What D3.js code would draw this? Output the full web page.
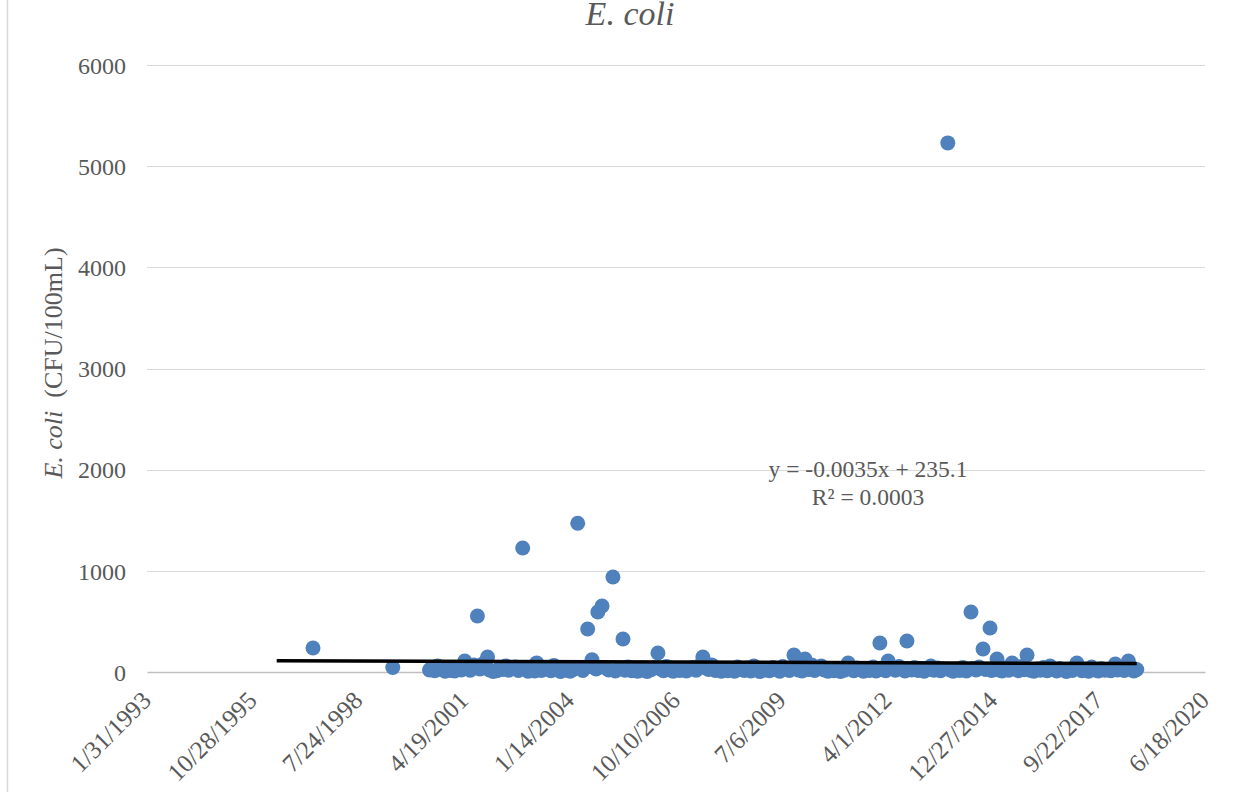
<!DOCTYPE html>
<html>
<head>
<meta charset="utf-8">
<script src="https://cdn.jsdelivr.net/npm/d3@7"></script>
<style>
  body { margin: 0; background: #fff; }
  svg { font-family: "Liberation Serif", "Times New Roman", serif; }
</style>
</head>
<body>
<svg id="svg1" width="1252" height="792"></svg>
<script>
// sample dates (M/D/YYYY) and E. coli counts (CFU/100mL)
var sampleDates = [
  "5/19/1997", "6/12/1999",
  "5/24/2000", "6/14/2000", "7/12/2000", "8/9/2000", "9/13/2000", "10/18/2000", "11/15/2000", "12/13/2000",
  "1/17/2001", "2/21/2001", "3/21/2001", "4/22/2001", "5/16/2001", "6/13/2001", "7/18/2001", "8/20/2001", "9/12/2001", "10/17/2001", "11/24/2001", "12/12/2001",
  "1/16/2002", "2/20/2002", "3/20/2002", "4/17/2002", "5/15/2002", "6/12/2002", "7/17/2002", "8/14/2002", "9/11/2002", "10/22/2002", "11/13/2002", "12/11/2002",
  "1/15/2003", "2/12/2003", "3/3/2003", "4/16/2003", "5/14/2003", "6/11/2003", "7/16/2003", "8/13/2003", "9/17/2003", "10/15/2003", "11/12/2003", "12/10/2003",
  "1/14/2004", "2/11/2004", "3/25/2004", "4/14/2004", "5/12/2004", "6/27/2004", "7/14/2004", "8/7/2004", "9/15/2004", "10/1/2004", "11/10/2004", "12/8/2004",
  "1/12/2005", "2/21/2005", "3/16/2005", "4/13/2005", "5/27/2005", "6/15/2005", "7/13/2005", "8/17/2005", "9/14/2005", "10/12/2005", "11/16/2005", "12/14/2005",
  "1/11/2006", "2/15/2006", "3/15/2006", "4/22/2006", "5/17/2006", "6/14/2006", "7/12/2006", "8/16/2006", "9/13/2006", "10/11/2006", "11/15/2006", "12/13/2006",
  "1/17/2007", "2/14/2007", "3/14/2007", "4/18/2007", "5/16/2007", "6/21/2007", "7/18/2007", "8/15/2007", "9/12/2007", "10/17/2007", "11/14/2007", "12/12/2007",
  "1/16/2008", "2/13/2008", "3/12/2008", "4/16/2008", "5/14/2008", "6/11/2008", "7/16/2008", "8/13/2008", "9/17/2008", "10/15/2008", "11/12/2008", "12/10/2008",
  "1/14/2009", "2/11/2009", "3/11/2009", "4/15/2009", "5/13/2009", "6/17/2009", "7/15/2009", "8/12/2009", "9/16/2009", "10/29/2009", "11/11/2009", "12/9/2009",
  "1/13/2010", "2/10/2010", "3/17/2010", "4/14/2010", "5/12/2010", "6/16/2010", "7/14/2010", "8/11/2010", "9/15/2010", "10/13/2010", "11/10/2010", "12/15/2010",
  "1/12/2011", "2/16/2011", "3/25/2011", "4/13/2011", "5/18/2011", "6/15/2011", "7/13/2011", "8/17/2011", "9/14/2011", "10/12/2011", "11/16/2011", "12/14/2011",
  "1/19/2012", "2/15/2012", "3/14/2012", "4/6/2012", "5/16/2012", "6/13/2012", "7/18/2012", "8/15/2012", "9/12/2012", "10/1/2012", "11/14/2012", "12/12/2012",
  "1/16/2013", "2/13/2013", "3/13/2013", "4/17/2013", "5/15/2013", "6/12/2013", "7/17/2013", "8/14/2013", "9/11/2013", "10/22/2013", "11/13/2013", "12/11/2013",
  "1/15/2014", "2/12/2014", "3/12/2014", "4/16/2014", "5/29/2014", "6/18/2014", "7/16/2014", "8/13/2014", "9/20/2014", "10/15/2014", "11/25/2014", "12/10/2014",
  "1/30/2015", "2/18/2015", "3/18/2015", "4/15/2015", "5/20/2015", "6/22/2015", "7/15/2015", "8/19/2015", "9/16/2015", "10/14/2015", "11/10/2015", "12/16/2015",
  "1/13/2016", "2/17/2016", "3/16/2016", "4/13/2016", "5/18/2016", "6/15/2016", "7/13/2016", "8/17/2016", "9/14/2016", "10/12/2016", "11/16/2016", "12/14/2016",
  "1/11/2017", "2/23/2017", "3/15/2017", "4/12/2017", "5/17/2017", "6/14/2017", "7/12/2017", "8/16/2017", "9/13/2017", "10/11/2017", "11/15/2017", "12/13/2017",
  "1/10/2018", "2/21/2018", "3/14/2018", "4/11/2018", "5/16/2018", "6/25/2018", "7/11/2018", "8/15/2018", "9/12/2018"
];
var ecoliValues = [
  237, 45,
  20, 45, 12, 60, 25, 8, 30, 15,
  10, 35, 20, 109, 40, 18, 70, 553, 30, 85, 148, 20,
  5, 12, 40, 25, 60, 18, 35, 50, 15, 1225, 30, 8,
  20, 10, 90, 15, 45, 28, 12, 65, 20, 5, 35, 18,
  8, 25, 1470, 40, 15, 425, 55, 120, 30, 593, 652, 45,
  20, 939, 10, 35, 326, 18, 50, 12, 28, 8, 40, 15,
  5, 22, 40, 188, 30, 12, 55, 20, 8, 35, 15, 25,
  10, 30, 45, 18, 60, 148, 40, 25, 70, 15, 35, 8,
  20, 12, 35, 8, 50, 25, 15, 40, 10, 60, 20, 5,
  18, 30, 12, 45, 22, 8, 55, 35, 15, 168, 40, 20,
  10, 128, 25, 70, 15, 40, 60, 20, 8, 30, 12, 25,
  5, 18, 89, 30, 12, 40, 22, 8, 35, 15, 50, 10,
  287, 25, 12, 109, 40, 18, 55, 30, 10, 306, 20, 45,
  15, 35, 8, 25, 60, 18, 40, 12, 30, 5230, 20, 8,
  30, 15, 45, 10, 593, 35, 20, 50, 227, 25, 435, 15,
  128, 20, 10, 40, 18, 89, 30, 12, 55, 22, 168, 15,
  8, 30, 18, 45, 12, 60, 25, 10, 35, 20, 5, 28,
  15, 89, 40, 12, 30, 8, 50, 20, 10, 35, 18, 25,
  12, 79, 20, 40, 15, 109, 30, 10, 25
];

// axis ticks
var xTickLabels = ["1/31/1993", "10/28/1995", "7/24/1998", "4/19/2001", "1/14/2004", "10/10/2006",
                   "7/6/2009", "4/1/2012", "12/27/2014", "9/22/2017", "6/18/2020"];
var yTicks = [0, 1000, 2000, 3000, 4000, 5000, 6000];

// linear trend as printed on the chart (x = Excel date serial)
var trendSlope = -0.0035;
var trendIntercept = 235.1;
var trendDates = ["6/10/1996", "9/12/2018"];
var trendLabels = ["y = -0.0035x + 235.1", "R\u00b2 = 0.0003"];

var parseMDY = d3.utcParse("%-m/%-d/%Y");
function excelSerial(dt) { return (dt - Date.UTC(1899, 11, 30)) / 86400000; }

var data = sampleDates.map(function(s, i) { return { date: parseMDY(s), value: ecoliValues[i] }; });

var svg = d3.select("#svg1"),
    margin = {top: 65, right: 47, bottom: 120, left: 147},
    width = +svg.attr("width") - margin.left - margin.right,
    height = +svg.attr("height") - margin.top - margin.bottom;

var grey = "#595959";

// chart area left border
svg.append("line")
    .attr("x1", 7.5).attr("x2", 7.5)
    .attr("y1", 0).attr("y2", 792)
    .attr("stroke", "#d9d9d9").attr("stroke-width", 1.5);

var g = svg.append("g").attr("transform", "translate(" + margin.left + "," + margin.top + ")");

var x = d3.scaleUtc()
    .domain([parseMDY(xTickLabels[0]), parseMDY(xTickLabels[xTickLabels.length - 1])])
    .range([0, width]);
var y = d3.scaleLinear().domain([0, 6000]).range([height, 0]);

// gridlines
g.append("g")
    .selectAll("line")
    .data(yTicks.slice(1))
  .enter().append("line")
    .attr("x1", 0).attr("x2", width)
    .attr("y1", function(d) { return Math.round(y(d)) + 0.5; })
    .attr("y2", function(d) { return Math.round(y(d)) + 0.5; })
    .attr("stroke", "#d9d9d9").attr("stroke-width", 1);

// y axis labels
var yAxis = g.append("g")
    .attr("class", "y axis")
    .attr("transform", "translate(-21,0)")
    .call(d3.axisLeft(y).tickValues(yTicks).tickFormat(d3.format("d")).tickSize(0).tickPadding(0))
    .attr("font-family", null)
    .attr("font-size", 24);
yAxis.select(".domain").remove();
yAxis.selectAll("text")
    .attr("fill", grey)
    .attr("dy", "0.34em");

// x axis
var xAxis = g.append("g")
    .attr("class", "x axis")
    .attr("transform", "translate(0," + height + ")")
    .call(d3.axisBottom(x)
        .tickValues(xTickLabels.map(parseMDY))
        .tickFormat(function(d, i) { return xTickLabels[i]; })
        .tickSize(0))
    .attr("font-family", null)
    .attr("font-size", 25);
xAxis.select(".domain").attr("stroke", "#bfbfbf").attr("stroke-width", 1.5);
xAxis.selectAll("text")
    .attr("fill", grey)
    .attr("text-anchor", "end")
    .attr("y", 0).attr("dy", 0)
    .attr("transform", "translate(5,30) rotate(-45)");

// points
g.selectAll(".dot")
    .data(data)
  .enter().append("circle")
    .attr("class", "dot")
    .attr("cx", function(d) { return x(d.date); })
    .attr("cy", function(d) { return y(d.value); })
    .attr("r", 7.5)
    .attr("fill", "#4f81bd");

// trendline
var trend = trendDates.map(function(s) {
  var dt = parseMDY(s);
  return { date: dt, value: trendSlope * excelSerial(dt) + trendIntercept };
});
g.append("path")
    .datum(trend)
    .attr("fill", "none")
    .attr("stroke", "#000")
    .attr("stroke-width", 3.5)
    .attr("d", d3.line().x(function(d) { return x(d.date); }).y(function(d) { return y(d.value); }));

// trend equation
svg.append("g")
    .selectAll("text")
    .data(trendLabels)
  .enter().append("text")
    .attr("x", 868)
    .attr("y", function(d, i) { return 477 + i * 28; })
    .attr("text-anchor", "middle")
    .attr("font-size", 23.5)
    .attr("fill", grey)
    .text(function(d) { return d; });

// chart title
svg.append("text")
    .attr("x", 630).attr("y", 25)
    .attr("text-anchor", "middle")
    .attr("font-size", 34)
    .attr("font-style", "italic")
    .attr("fill", grey)
    .text("E. coli");

// y axis title
var yt = svg.append("text")
    .attr("transform", "translate(62,363) rotate(-90)")
    .attr("text-anchor", "middle")
    .attr("font-size", 26)
    .attr("fill", grey);
yt.append("tspan").attr("font-style", "italic").text("E. coli");
yt.append("tspan").attr("dx", 13).text("(CFU/100mL)");
</script>
</body>
</html>
